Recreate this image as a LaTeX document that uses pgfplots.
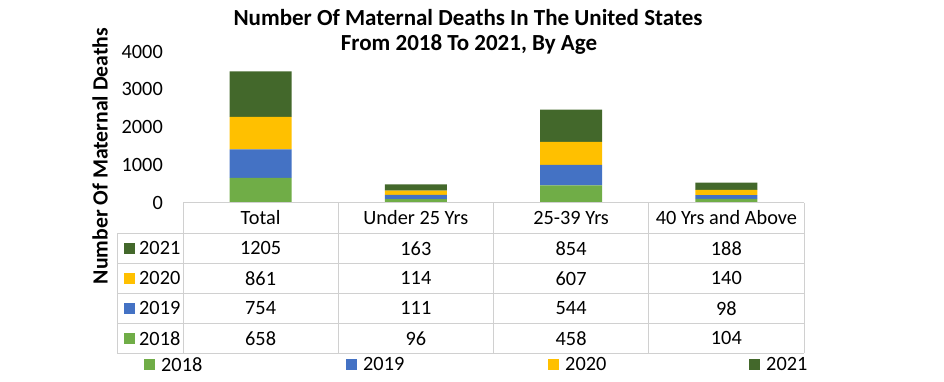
\documentclass[border=0pt]{standalone}
\usepackage{fontspec}
\setmainfont{Carlito}
\usepackage{pgfplots}
\usepackage{pgfplotstable}
\pgfplotsset{compat=1.18}
\definecolor{cA}{HTML}{70AD47}
\definecolor{cB}{HTML}{4472C4}
\definecolor{cC}{HTML}{FFC000}
\definecolor{cD}{HTML}{43682B}
\definecolor{gridc}{HTML}{D0D0D0}
\pgfplotstableread{
cat y2018 y2019 y2020 y2021
0 658 754 861 1205
1 96 111 114 163
2 458 544 607 854
3 104 98 140 188
}\datatable
\begin{document}
\begin{tikzpicture}[x=1pt,y=1pt]
\path[use as bounding box] (0,0) rectangle (944,382);
\begin{axis}[
  at={(183pt,179.3pt)}, anchor=south west,
  scale only axis, width=621pt, height=151pt,
  ybar stacked, bar width=62pt,
  xmin=-0.5, xmax=3.5, ymin=0, ymax=4000,
  xtick=\empty, ytick={0,1000,2000,3000,4000},
  axis line style={draw=none}, major tick length=0pt,
  /pgf/number format/assume math mode=true,
  /pgf/number format/set thousands separator={},
  yticklabel style={font=\fontsize{20.3}{24}\selectfont, anchor=east, inner sep=0pt, xshift=-20pt},
  clip=false,
]
\addplot[fill=cA, draw=none] table[x=cat,y=y2018]{\datatable};
\addplot[fill=cB, draw=none] table[x=cat,y=y2019]{\datatable};
\addplot[fill=cC, draw=none] table[x=cat,y=y2020]{\datatable};
\addplot[fill=cD, draw=none] table[x=cat,y=y2021]{\datatable};
\end{axis}
% title
\node[font=\fontsize{23}{27}\selectfont\bfseries] at (468,364) {Number Of Maternal Deaths In The United States};
\node[font=\fontsize{23}{27}\selectfont\bfseries] at (469,337) {From 2018 To 2021, By Age};
% y label
\node[font=\fontsize{21.7}{25}\selectfont\bfseries, rotate=90] at (100,226) {Number Of Maternal Deaths};
% table grid
\begin{scope}[draw=gridc, line width=0.8pt]
\draw (183,179.3) -- (804,179.3);
\foreach \yy in {148.7,118.7,88.7,58.7,28.7} \draw (117,\yy) -- (804,\yy);
\foreach \xx in {183,338.25,493.5,648.75,804} \draw (\xx,179.3) -- (\xx,28.7);
\draw (117,148.7) -- (117,28.7);
\end{scope}
% header
\begin{scope}[font=\fontsize{20.3}{24}\selectfont]
\node at (260.6,164) {Total};
\node at (415.9,164) {Under 25 Yrs};
\node at (571.1,164) {25-39 Yrs};
\node at (726.4,164) {40 Yrs and Above};
% rows
\foreach \col/\lab/\cc [count=\i from 0] in {y2021/2021/cD, y2020/2020/cC, y2019/2019/cB, y2018/2018/cA} {
  \pgfmathsetmacro{\yc}{133.7-30*\i}
  \fill[\cc] (124,\yc-5.3) rectangle (134.5,\yc+5.3);
  \node[anchor=west, inner sep=0pt] at (139,\yc) {\lab};
  \foreach \r in {0,1,2,3} {
    \pgfplotstablegetelem{\r}{\col}\of\datatable
    \pgfmathsetmacro{\xc}{260.6+155.25*\r}
    \node at (\xc,\yc) {\pgfplotsretval};
  }
}
% legend
\foreach \lab/\cc/\xs in {2018/cA/144, 2019/cB/346, 2020/cC/548, 2021/cD/749} {
  \fill[\cc] (\xs,12.2) rectangle (\xs+11,23.2);
  \node[anchor=west, inner sep=0pt] at (\xs+17,17.7) {\lab};
}
\end{scope}
\end{tikzpicture}
\end{document}
